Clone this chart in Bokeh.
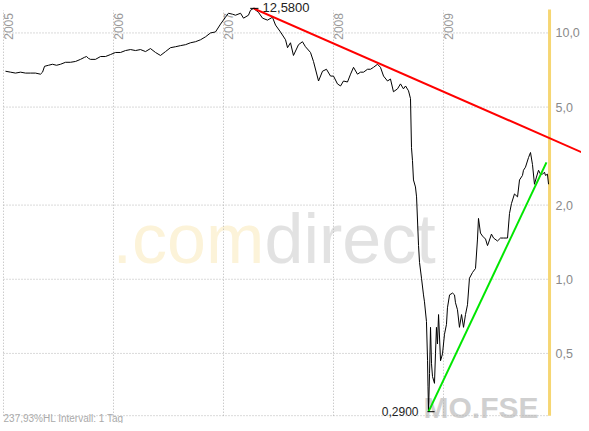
import numpy as np
from bokeh.plotting import figure
from bokeh.models import Range1d, LogScale
from bokeh.core.properties import value
from bokeh.embed import file_html
from bokeh.resources import INLINE

# ---------------- data ----------------
years = [2005, 2006, 2007, 2008, 2009]
year_labels = ["2005", "2006", "2007", "2008", "2009"]
price_ticks = [0.5, 1.0, 2.0, 5.0, 10.0]
price_tick_labels = ["0,5", "1,0", "2,0", "5,0", "10,0"]

t = [2005.018, 2005.064, 2005.109, 2005.155, 2005.200, 2005.245, 2005.291, 2005.336, 2005.355, 2005.373,
     2005.409, 2005.445, 2005.482, 2005.518, 2005.564, 2005.609, 2005.655, 2005.700, 2005.736, 2005.755,
     2005.773, 2005.791, 2005.836, 2005.882, 2005.927, 2005.973, 2006.018, 2006.064, 2006.109, 2006.155,
     2006.200, 2006.245, 2006.291, 2006.336, 2006.382, 2006.427, 2006.473, 2006.518, 2006.564, 2006.609,
     2006.655, 2006.700, 2006.745, 2006.791, 2006.836, 2006.882, 2006.927, 2006.973, 2007.018, 2007.045,
     2007.082, 2007.109, 2007.155, 2007.182, 2007.227, 2007.245, 2007.273, 2007.318, 2007.355, 2007.400,
     2007.445, 2007.473, 2007.518, 2007.564, 2007.582, 2007.609, 2007.636, 2007.682, 2007.718, 2007.745,
     2007.791, 2007.818, 2007.864, 2007.900, 2007.936, 2007.973, 2008.000, 2008.036, 2008.064, 2008.091,
     2008.127, 2008.155, 2008.182, 2008.218, 2008.245, 2008.273, 2008.309, 2008.336, 2008.364, 2008.400,
     2008.427, 2008.455, 2008.491, 2008.518, 2008.545, 2008.582, 2008.609, 2008.636, 2008.655, 2008.682,
     2008.700, 2008.709, 2008.718, 2008.727, 2008.745, 2008.755, 2008.773, 2008.782, 2008.800, 2008.818,
     2008.827, 2008.845, 2008.855, 2008.859, 2008.864, 2008.873, 2008.882, 2008.891, 2008.900, 2008.918,
     2008.927, 2008.936, 2008.945, 2008.955, 2008.973, 2008.991, 2009.009, 2009.027, 2009.036, 2009.055,
     2009.082, 2009.100, 2009.109, 2009.127, 2009.145, 2009.164, 2009.182, 2009.200, 2009.218, 2009.236,
     2009.264, 2009.291, 2009.309, 2009.318, 2009.336, 2009.355, 2009.382, 2009.400, 2009.409, 2009.436,
     2009.455, 2009.491, 2009.518, 2009.545, 2009.582, 2009.600, 2009.618, 2009.645, 2009.673, 2009.691,
     2009.718, 2009.727, 2009.745, 2009.773, 2009.791, 2009.809, 2009.827, 2009.845, 2009.864, 2009.882,
     2009.900, 2009.918, 2009.927, 2009.945, 2009.955]

close = [6.99, 6.93, 6.87, 6.93, 6.87, 6.87, 6.87, 6.80, 6.93, 7.32,
         7.39, 7.46, 7.39, 7.46, 7.60, 7.60, 7.66, 7.81, 7.96, 8.02,
         7.88, 7.81, 7.81, 8.02, 8.02, 8.17, 8.33, 8.33, 8.48, 8.56,
         8.48, 8.56, 8.40, 8.64, 8.33, 8.10, 8.40, 8.71, 8.79, 8.88,
         8.96, 9.12, 9.21, 9.38, 9.64, 10.00, 10.09, 10.86, 11.58, 12.02,
         11.91, 11.80, 12.02, 11.48, 11.80, 12.35, 12.58, 12.12, 11.48, 11.27,
         11.58, 10.76, 10.09, 9.38, 8.71, 9.12, 8.10, 8.96, 9.21, 8.79,
         8.33, 7.66, 6.38, 6.99, 7.12, 6.68, 6.68, 6.21, 6.09, 6.38,
         6.32, 6.80, 7.25, 6.80, 6.93, 6.93, 7.12, 7.12, 7.25, 7.46,
         7.25, 6.68, 6.38, 6.50, 5.77, 5.93, 6.21, 5.93, 6.09, 5.82,
         5.41, 3.42, 3.03, 2.53, 2.37, 2.16, 1.37, 1.17, 1.01, 0.864,
         0.810, 0.674, 0.467, 0.368, 0.290, 0.414, 0.638, 0.454, 0.403, 0.378,
         0.498, 0.638, 0.546, 0.719, 0.467, 0.498, 0.598, 0.656, 0.766, 0.864,
         0.879, 0.864, 0.803, 0.752, 0.638, 0.719, 0.638, 0.719, 0.788, 1.01,
         1.066, 1.106, 1.456, 1.766, 1.54, 1.497, 1.456, 1.37, 1.404, 1.525,
         1.47, 1.43, 1.47, 1.47, 1.47, 1.85, 2.03, 2.22, 2.16, 2.53,
         2.64, 2.77, 2.85, 3.12, 3.27, 2.92, 2.43, 2.60, 2.77, 2.67,
         2.67, 2.72, 2.64, 2.67, 2.43]

high_t, high_v, high_label = 2007.273, 12.58, "12,5800"
low_t, low_v, low_label = 2008.864, 0.29, "0,2900"
resist_t = [2007.273, 2010.43]
resist_v = [12.58, 3.03]
support_t = [2008.864, 2009.936]
support_v = [0.29, 2.98]
t_last = 2009.964
footer = "237,93%HL  Intervall: 1 Tag"

# ---------------- figure ----------------
FONT = value("Liberation Sans")
V_TOP, V_BOTTOM = 13.54, 0.2597
p = figure(width=581, height=423,
           x_range=Range1d(2004.9727, 2010.2545), y_range=Range1d(V_BOTTOM, V_TOP),
           x_axis_type=None, y_axis_type=None,
           output_backend="svg", toolbar_location=None, min_border=0,
           outline_line_color=None, background_fill_color="white",
           border_fill_color="white")
p.y_scale = LogScale()

v_grid_bot = 0.2794
v_grid_top = 12.35

# watermark
p.text(x=[2005.991], y=[1.457], text=[".com"], text_font=FONT, text_font_size=value("70px"),
       text_color="#fcf3d9", text_baseline="alphabetic", text_align="left")
p.text(x=[2007.373], y=[1.457], text=["direct"], text_font=FONT, text_font_size=value("70px"),
       text_color="#e2e2e2", text_baseline="alphabetic", text_align="left")
p.text(x=[2009.864], y=[0.3006], text=["MO.FSE"], text_font=FONT, text_font_size=value("30px"),
       text_font_style="bold", text_color="#d0d0d0", text_baseline="alphabetic", text_align="right")

# grid lines (dotted)
n = len(price_ticks)
p.segment(x0=[2005.0] * (n + 1), x1=[t_last] * (n + 1),
          y0=price_ticks + [v_grid_bot], y1=price_ticks + [v_grid_bot],
          line_color="#b4b4b4", line_width=1, line_dash="1 2")
p.segment(x0=years, x1=years, y0=[v_grid_bot] * len(years), y1=[v_grid_top] * len(years),
          line_color="#b4b4b4", line_width=1, line_dash="1 2")

# right boundary (yellow)
p.segment(x0=[t_last], x1=[t_last], y0=[v_grid_bot], y1=[12.46], line_color="#f6d672", line_width=3)

# year labels (rotated, top)
p.text(x=[y + 0.009 for y in years], y=[9.38] * len(years), text=year_labels, angle=np.pi / 2,
       text_font=FONT, text_font_size=value("12px"), text_color="#9a9a9a",
       text_align="left", text_baseline="top")

# price labels (right)
p.text(x=[2010.018] * n, y=price_ticks, text=price_tick_labels, text_font=FONT,
       text_font_size=value("12.5px"), text_color="#8a8a8a", text_align="left", text_baseline="middle")

# price line
p.line(t, close, line_color="black", line_width=1)

# trend lines
p.line(resist_t, resist_v, line_color="#ff0000", line_width=2)
p.line(support_t, support_v, line_color="#00e600", line_width=2)

# high / low markers
p.segment(x0=[high_t - 0.03, low_t - 0.01], x1=[high_t + 0.045, low_t + 0.055],
          y0=[high_v, low_v], y1=[high_v, low_v], line_color="black", line_width=1)
p.text(x=[2007.355], y=[12.69], text=[high_label], text_font=FONT, text_font_size=value("13px"),
       text_color="#222222", text_align="left", text_baseline="middle")
p.text(x=[2008.773], y=[low_v], text=[low_label], text_font=FONT, text_font_size=value("12px"),
       text_color="#222222", text_align="right", text_baseline="middle")

# footer
p.text(x=[2005.0], y=[V_BOTTOM], text=[footer], text_font=FONT, text_font_size=value("10px"),
       text_color="#aaaaaa", text_align="left", text_baseline="bottom")

open("out.html", "w").write(file_html(p, INLINE))
